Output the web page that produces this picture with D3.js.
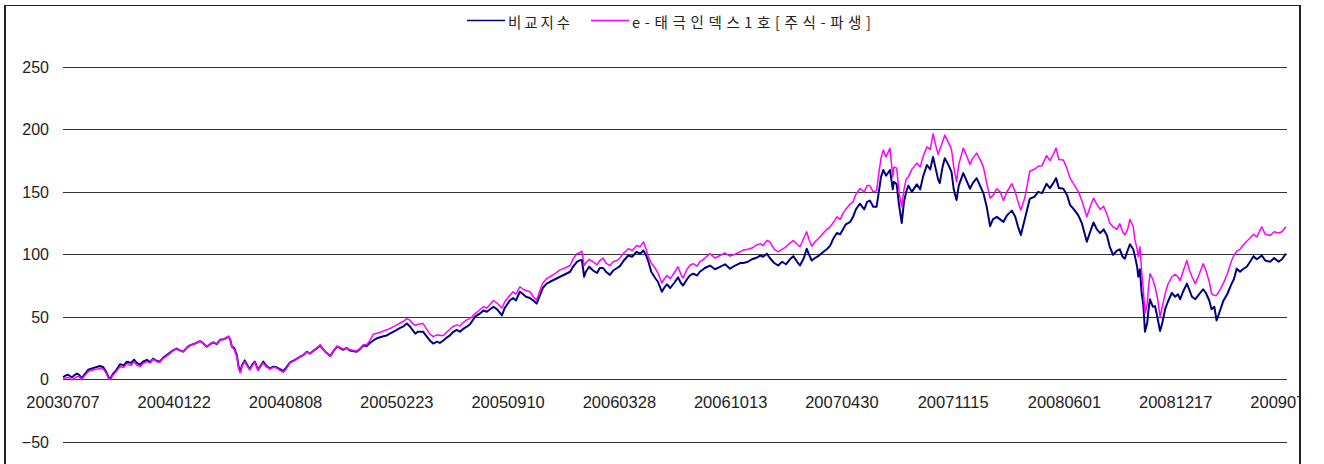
<!DOCTYPE html>
<html><head><meta charset="utf-8">
<script src="https://cdn.jsdelivr.net/npm/d3@7"></script>
<style>html,body{margin:0;padding:0;background:#fff;overflow:hidden}</style>
</head><body><svg id="c" width="1324" height="464"></svg>
<script>
const startDate = "20030707";
const endDate = "20090704";
const tickLabels = ["20030707","20040122","20040808","20050223","20050910","20060328","20061013","20070430","20071115","20080601","20081217","20090704"];
const yTicks = [-50, 0, 50, 100, 150, 200, 250];
const seriesNames = ["비교지수", "e-태극인덱스1호[주식-파생]"];
// days since startDate
const dayOffsets = [0,5,9,16,20,25,29,33,39,45,55,66,72,77,82,85,
89,95,102,109,114,122,127,132,138,143,150,156,161,168,173,
179,185,191,197,203,209,215,222,227,236,245,250,257,263,269,275,281,288,296,
299,302,306,311,314,317,320,325,330,334,339,343,349,354,358,363,370,376,382,388,394,399,
406,415,424,429,436,442,447,452,460,463,469,478,483,490,495,501,507,513,525,531,537,543,
549,555,563,570,579,587,597,603,608,615,621,624,630,635,644,649,656,662,669,674,680,687,692,697,704,710,715,722,728,
737,744,752,758,764,770,776,785,790,799,805,810,817,823,828,835,841,847,853,858,865,871,880,889,898,907,
912,919,923,928,932,935,941,948,955,960,966,971,978,984,991,996,1003,1011,1018,1026,1032,1038,1043,
1047,1052,1059,1064,1071,1075,1080,1086,1093,1100,1105,1109,1116,1121,1127,1134,1139,
1148,1157,1166,1175,1184,1193,1202,1211,1217,1225,1232,1239,1247,1252,1259,1264,1272,1279,1286,1293,1300,1306,1313,1318,
1325,1330,1334,1339,1345,1352,1360,1366,1372,1377,1384,1390,1395,1400,1408,1413,1418,1425,1433,1438,1443,1449,1455,
1459,1463,1467,1472,1479,1484,1486,1491,1495,1500,1504,1508,1512,1518,1527,1533,1538,1545,1551,1556,1561,1565,
1568,1573,1577,1583,1589,1593,1598,1602,1610,1615,1622,1627,1634,1640,1646,1652,1658,1663,1670,1676,
1682,1688,1697,1703,1708,1713,1720,1729,1737,1744,1751,1759,1765,1771,1776,1781,1789,
1796,1801,1808,1816,1822,1831,1837,1843,1849,1855,1861,1867,1872,1878,1885,1890,1895,1899,1904,1908,1914,
1917,1921,1923,1926,1929,1932,1935,1939,1941,1944,1949,1953,1957,1962,1966,1971,1976,1983,1989,1994,
1998,2003,2010,2014,2019,2025,2032,2039,2044,2050,2054,2059,2063,2067,2075,2082,2090,2094,2099,
2105,2110,2117,2123,2129,2135,2144,2150,2159,2166,2174,2180,2187];
// 비교지수
const benchmark = [1.5,3,3.5,1.5,3,4.5,3.5,0.5,4,7.5,9,10.5,9.5,6,1,0.5,
4,7,12,11,14,13,15.5,13,11.5,14,15.5,13.5,16.5,14.5,14,
17,19,21,23,24.5,23,22,25.5,27,28.5,30.5,29,26,28,29.5,28,31.5,32,34,
32,26,25,19,10,6,11,15,11,8,12,14,7.5,11,14,11,8.5,10,9.5,8,6.5,9,
13.5,15.5,18,19,22,20.5,22.5,24,27,25,22,18.5,22,26,25,23.5,25,23,22,24,27,26.5,
29,31,33,34,35,37,39.5,41,42,44.5,42,40,36.5,38,38,35,31,28.5,30,29,31,33.5,35,37.5,39.5,38,40,42,44,
50,52,55,54,56,58,56,51,57,63,65,63,70,68,66,65,63,60.5,67,73,76.5,78,80,82,84,86,
90,94,95,95.5,82,86,90,87,85,89,89,86,83.5,87,89,90.5,95,99,98,102,100.5,103,99,
94,86,81,78,70,73,76,73,77,81.5,77,75,80,83,84.5,83,86,
89,91,88,90,92,88.5,91,93,93,94,96,97,99,98,100.5,97,93,91,94,92,96,98.5,94,91,
97,104.5,100,95,97,99,102,104,107,112,117,116,120,124,126,130,136,140.5,136,142,143,138,138,
150,162,167.5,163,167.5,152,158,156,140,125,142,150,155,150,156,152,162,171.5,168,178,168,160,
157,170,177,172,166,152,143.5,155,165,160,152.5,157,161,155,149,138,122.5,128,130,128,
126,131,135,130,122,115.5,128,144.5,146,150,149,156.5,153,157,161,153,152.5,
147,139.5,136,131,125,110,118,125.5,120,117,120,115,106,99.5,103,104,98,96.5,103,108,104,
98.5,90,82,88,69,60,38,45,54,64,58,58.5,50,38.5,45,56,62,69,66,68,
64,70,76.5,72,66,64,68,72,69,63,56,58,47,52,62.5,68,76.5,80,88.5,
86,88,90,94,98.5,96,99,95,94,97,94,96,100.5];
// e-태극인덱스1호[주식-파생]
const fund = [0,1,1.5,-0.5,0.5,2,2,-0.5,3,6,7.5,8.5,8,5,0,-0.5,
3,6,10,9.5,12.5,11,14,11,10,12.5,14,13,16,14,13.5,
16.5,18.5,20.5,23,24.5,23,22,25.5,27,28.5,30.5,29,26,28,29.5,28,31.5,32,34.5,
32,26,24,18,9,5,10,14,10,7.5,11,13.5,7,10.5,13,10,8,9.5,9,7,5.5,8,
13,15,18,19,22,20.5,22.5,24,27.5,25,22,18.5,22,26.5,25.5,24,25,23.5,22.5,24.5,27.5,27.5,
31,36,37,38,39.5,41,43.5,45,46,48.5,47,45,43,44,44.5,41,36,34,35.5,35,35,38,40,42,43.5,42.5,45,47.5,48.5,
52.5,55,58,57,60,63,61,57,62,67,70,68,74,72,71,70,66,63.5,71,77,80.5,82,84.5,87.5,89,91,
96,100.5,101,102.5,91,93,96,94,91.5,95,97,93,91,94,95,97,101,104.5,103,107,106,110,104,
98,93,89,85,77,80,83,80.5,85,90,84,81,88,91,92.5,90.5,94,
97,100.5,97,99,101,98.5,100,102,103.5,104,105,107,108.5,107,111,110,104,102,104,106,109,111,108,106,
113,118,112,106.5,110,113,117,120,122,125,130,128,133,136,140.5,142,148,152.5,150,155,155,150,151,
165,177,183.5,178,185,162,170,169,150,138,152,160,162,168,173,170,178,186,184,196.5,187,180,
184,190,195.5,190,184,170,158,172,185,180,172,177,181,176,170,157,145,147,152.5,150,
143,150,156.5,150,142,135.5,145,166.5,168,170.5,171,179,175,180,185,176,175.5,
168,161,156,150,143,130,138,145,140,136,138.5,132,125,122,120,124.5,118,115.5,120,128,122,
111.5,104,98,106,87,72,52.5,60,72,84.5,80,74,66,50,58,68.5,76,82,84,82,
79,86,95,88,82,76.5,84,92.5,87,78,68.5,67,67,70,76.5,84,95,99,102.5,
104,107,110.5,113,116,114,122,116,115,118,117,118,122];

const parse = d3.timeParse("%Y%m%d");
const start = parse(startDate);
const dates = dayOffsets.map(d => d3.timeDay.offset(start, d));

const svg = d3.select("#c");
const x = d3.scaleTime().domain([start, parse(endDate)]).range([63, 1287]);
const y = d3.scaleLinear().domain([-100, 250]).range([504, 67]);

svg.append("defs").append("clipPath").attr("id", "clip")
  .append("rect").attr("x", 0).attr("y", 0).attr("width", 1299).attr("height", 464);

const g = svg.append("g").attr("clip-path", "url(#clip)");

// gridlines
g.append("g").selectAll("line").data(yTicks).join("line")
  .attr("x1", 63).attr("x2", 1287)
  .attr("y1", d => Math.round(y(d)) + 0.5).attr("y2", d => Math.round(y(d)) + 0.5)
  .attr("stroke", "#333").attr("stroke-width", 1);

// y labels
g.append("g").selectAll("text").data(yTicks).join("text")
  .attr("x", 49).attr("y", d => y(d) + 6)
  .attr("text-anchor", "end")
  .attr("font-family", "Liberation Sans, Arial, sans-serif").attr("font-size", 16)
  .attr("fill", "#222").text(d => d < 0 ? "\u2212" + Math.abs(d) : d);

// x labels
g.append("g").selectAll("text").data(tickLabels).join("text")
  .attr("x", d => x(parse(d))).attr("y", 408)
  .attr("text-anchor", "middle")
  .attr("font-family", "Liberation Sans, Arial, sans-serif").attr("font-size", 16.5)
  .attr("fill", "#222").text(d => d);

const line = vals => d3.line().x((d, i) => x(dates[i])).y(d => y(d))(vals);
g.append("path").attr("d", line(benchmark)).attr("fill", "none")
  .attr("stroke", "#000080").attr("stroke-width", 2).attr("stroke-linejoin", "round");
g.append("path").attr("d", line(fund)).attr("fill", "none")
  .attr("stroke", "#FF00FF").attr("stroke-width", 1.5).attr("stroke-linejoin", "round");

// legend
const colors = ["#000080", "#FF00FF"];
const legX = [467, 591];
const legW = [62, 239];
seriesNames.forEach((name, i) => {
  svg.append("line").attr("x1", legX[i]).attr("x2", legX[i] + 38)
    .attr("y1", 20.5).attr("y2", 20.5).attr("stroke", colors[i]).attr("stroke-width", 1.5);
  svg.append("text").attr("x", legX[i] + 41).attr("y", 28)
    .attr("font-family", "Noto Sans CJK KR, sans-serif").attr("font-size", 14.5)
    .attr("fill", "#222").attr("textLength", legW[i]).attr("lengthAdjust", "spacing")
    .text(name);
});

// frame
svg.append("line").attr("x1", 4).attr("x2", 1301).attr("y1", 5.5).attr("y2", 5.5).attr("stroke", "#222").attr("stroke-width", 1);
svg.append("line").attr("x1", 5).attr("x2", 5).attr("y1", 5).attr("y2", 464).attr("stroke", "#222").attr("stroke-width", 2);
svg.append("line").attr("x1", 1300).attr("x2", 1300).attr("y1", 5).attr("y2", 464).attr("stroke", "#222").attr("stroke-width", 2);
</script></body></html>
